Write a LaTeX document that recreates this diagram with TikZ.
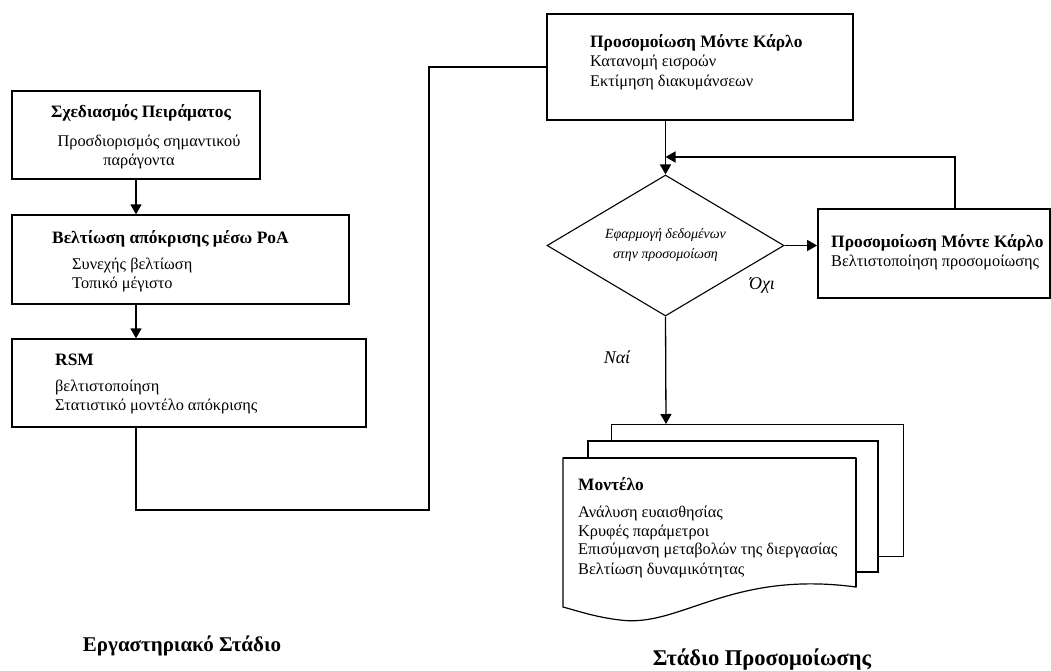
\documentclass[tikz,border=0pt]{standalone}
\usepackage{fontspec}
\setmainfont{Liberation Serif}
\usetikzlibrary{arrows.meta,shapes.geometric}

\tikzset{
  box/.style={draw,line width=1.3pt,inner sep=0pt},
  flow/.style={line width=1.6pt,-{Triangle[length=10pt,width=11pt]}},
  wire/.style={line width=1.4pt},
  ttl/.style={font=\fontsize{17.4}{20}\selectfont\bfseries,inner sep=0pt},
  txt/.style={font=\fontsize{16.3}{19}\selectfont,inner sep=0pt},
  lbl/.style={font=\fontsize{18}{20}\selectfont\itshape,inner sep=0pt},
  stage/.style={font=\fontsize{21}{24}\selectfont\bfseries,inner sep=0pt},
}

\begin{document}
\begin{tikzpicture}[x=1pt,y=-1pt]
\useasboundingbox (0,0) rectangle (1051,670);

% left column
\node (sp)  [box,minimum width=248pt,minimum height=88pt] at (136,135) {};
\node (bv)  [box,minimum width=337pt,minimum height=89pt] at (180.5,259.5) {};
\node (rsm) [box,minimum width=354pt,minimum height=88pt] at (189,383) {};

\node (sp1) [ttl] at (141,113) {Σχεδιασμός Πειράματος};
\node (sp2) [txt] at (149,142) {Προσδιορισμός σημαντικού};
\node (sp3) [txt] at (139,161) {παράγοντα};

\node (bv1) [ttl,anchor=west] at (52,239) {Βελτίωση απόκρισης μέσω PoA};
\node (bv2) [txt,anchor=west] at (72,265) {Συνεχής βελτίωση};
\node (bv3) [txt,anchor=west] at (72,284) {Τοπικό μέγιστο};

\node (rsm1) [ttl,anchor=west] at (55,360) {RSM};
\node (rsm2) [txt,anchor=west] at (55,387) {βελτιστοποίηση};
\node (rsm3) [txt,anchor=west] at (55,406) {Στατιστικό μοντέλο απόκρισης};

\draw[flow] (sp.south) -- (sp.south |- bv.north);
\draw[flow] (sp.south |- bv.south) -- (sp.south |- rsm.north);

% right column
\node (mk)  [box,line width=2pt,minimum width=306pt,minimum height=106pt] at (700,67) {};
\node (mk1) [ttl,anchor=west] at (590,43) {Προσομοίωση Μόντε Κάρλο};
\node (mk2) [txt,anchor=west] at (590,62) {Κατανομή εισροών};
\node (mk3) [txt,anchor=west] at (590,82) {Εκτίμηση διακυμάνσεων};

\node (dec) [draw,diamond,line width=1.1pt,aspect=1.68,inner sep=0pt,
  minimum width=237pt,minimum height=141pt,align=center,
  font=\fontsize{14}{20}\selectfont\itshape] at (665.5,245.5)
  {Εφαρμογή δεδομένων\\στην προσομοίωση};

\node (opt)  [box,line width=1.8pt,minimum width=232pt,minimum height=89pt] at (934,253.5) {};
\node (opt1) [ttl,anchor=west] at (831,243) {Προσομοίωση Μόντε Κάρλο};
\node (opt2) [txt,anchor=west] at (831,262) {Βελτιστοποίηση προσομοίωσης};

\node (no)  [lbl] at (762,285) {Όχι};
\node (yes) [lbl] at (617,357) {Ναί};

% document stack
\coordinate (doctop) at (666,424);
\draw[line width=1pt,fill=white] (611,424) rectangle (903,556);
\draw[line width=1.5pt,fill=white] (588,441) rectangle (878,572);
\draw[line width=1.2pt,fill=white] (563,458) -- (856,458) -- (856,587)
  .. controls (730,570) and (680,628) .. (620,620)
  .. controls (595,617) and (578,611) .. (563,607) -- cycle;
\draw[line width=2.2pt] (856,458) -- (856,587);
\draw[line width=2.2pt] (563,458) -- (856,458);

\node (md1) [ttl,anchor=west] at (578,484) {Μοντέλο};
\node (md2) [txt,anchor=west] at (578,513) {Ανάλυση ευαισθησίας};
\node (md3) [txt,anchor=west] at (578,532) {Κρυφές παράμετροι};
\node (md4) [txt,anchor=west] at (578,550) {Επισύμανση μεταβολών της διεργασίας};
\node (md5) [txt,anchor=west] at (578,570) {Βελτίωση δυναμικότητας};

% connectors
\draw[wire] (sp.south |- rsm.south) |- (429,510) |- (mk.west);
\draw[flow] (dec.north |- mk.south) -- (dec.north);
\draw[flow] ([xshift=21pt]opt.north) |- (dec.north |- 0,157);
\draw[flow] (dec.east) -- (opt.west |- dec.east);
\draw[flow,line width=1.3pt] (dec.south) -- (doctop);

% stages
\node (lab) [stage] at (182,646) {Εργαστηριακό Στάδιο};
\node (sim) [stage,font=\fontsize{22.5}{26}\selectfont\bfseries] at (762,660) {Στάδιο Προσομοίωσης};
\end{tikzpicture}
\end{document}
